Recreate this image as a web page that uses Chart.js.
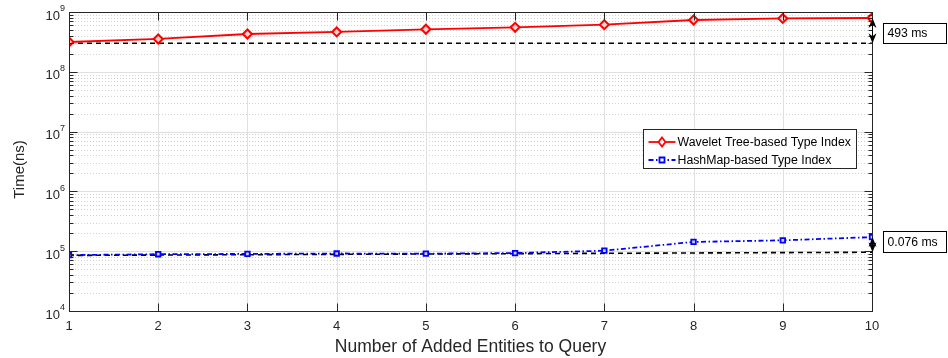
<!DOCTYPE html>
<html>
<head>
<meta charset="utf-8">
<script src="https://cdn.jsdelivr.net/npm/chart.js@4.4.0/dist/chart.umd.min.js"></script>
<style>
  html, body { margin: 0; padding: 0; background: #fff; }
  #wrap { width: 948px; height: 358px; }
</style>
</head>
<body>
<div id="wrap"><canvas id="c" width="948" height="358"></canvas></div>
<script>
// Query time (ns) versus number of added entities
const entities = [1, 2, 3, 4, 5, 6, 7, 8, 9, 10];
const waveletTreeNs = [3.15e8, 3.54e8, 4.29e8, 4.64e8, 5.14e8, 5.55e8, 6.13e8, 7.35e8, 7.8e8, 7.93e8];
const hashMapNs = [8.6e4, 8.9e4, 9.0e4, 9.15e4, 9.1e4, 9.3e4, 1.02e5, 1.43e5, 1.52e5, 1.72e5];
// reference lines, given at the first and last entity count
const baselineX = [1, 10];
const waveletBaselineNs = [3.0e8, 3.0e8];
const hashMapBaselineNs = [8.5e4, 9.6e4];
const gapLabels = ['493 ms', '0.076 ms'];
const seriesNames = ['Wavelet Tree-based Type Index', 'HashMap-based Type Index'];
const yDecades = [1e4, 1e5, 1e6, 1e7, 1e8, 1e9];
const yDecadeExponents = ['4', '5', '6', '7', '8', '9'];
const yTitle = 'Time(ns)';

const FONT = "'Liberation Sans', Arial, Helvetica, sans-serif";
const AXIS_COLOR = '#262626';

const toPoints = (xs, ys) => xs.map((x, i) => ({ x: x, y: ys[i] }));

const seriesStyles = [
  { color: '#ff0000', dash: [], point: 'rectRot' },
  { color: '#0000ff', dash: [5, 2.5, 1.5, 2.5], point: 'rect' }
];

function drawArrowHead(ctx, x, y, dir) {
  // dir: -1 pointing up, +1 pointing down
  ctx.beginPath();
  ctx.moveTo(x, y);
  ctx.lineTo(x - 4, y - dir * 10);
  ctx.lineTo(x, y - dir * 7);
  ctx.lineTo(x + 4, y - dir * 10);
  ctx.closePath();
  ctx.fill();
}

const matlabAxes = {
  id: 'matlabAxes',
  beforeDatasetsDraw(chart) {
    const { ctx, chartArea: ca, scales } = chart;
    const xs = scales.x, ys = scales.y;
    ctx.save();
    ctx.lineWidth = 1;
    // minor dotted grid on the log axis
    ctx.strokeStyle = '#d2d2d2';
    ctx.setLineDash([1, 2]);
    for (let d = 0; d < yDecades.length - 1; d++) {
      for (let k = 2; k <= 9; k++) {
        const py = Math.round(ys.getPixelForValue(k * yDecades[d])) + 0.5;
        ctx.beginPath(); ctx.moveTo(ca.left, py); ctx.lineTo(ca.right, py); ctx.stroke();
      }
    }
    ctx.setLineDash([]);
    // major grid
    ctx.strokeStyle = '#e0e0e0';
    yDecades.forEach(v => {
      const py = Math.round(ys.getPixelForValue(v)) + 0.5;
      ctx.beginPath(); ctx.moveTo(ca.left, py); ctx.lineTo(ca.right, py); ctx.stroke();
    });
    entities.forEach(v => {
      const px = Math.round(xs.getPixelForValue(v)) + 0.5;
      ctx.beginPath(); ctx.moveTo(px, ca.top); ctx.lineTo(px, ca.bottom); ctx.stroke();
    });
    ctx.restore();
  },
  afterDatasetsDraw(chart) {
    const { ctx, chartArea: ca, scales } = chart;
    const xs = scales.x, ys = scales.y;
    const L = ca.left + 0.5, R = Math.round(ca.right) + 0.5, T = ca.top + 0.5, B = Math.round(ca.bottom) + 0.5;
    ctx.save();
    // axes box
    ctx.strokeStyle = AXIS_COLOR;
    ctx.lineWidth = 1;
    ctx.strokeRect(L, T, R - L, B - T);
    // inward tick marks
    ctx.beginPath();
    entities.forEach(v => {
      const px = Math.round(xs.getPixelForValue(v)) + 0.5;
      ctx.moveTo(px, B); ctx.lineTo(px, B - 8);
      ctx.moveTo(px, T); ctx.lineTo(px, T + 8);
    });
    yDecades.forEach((v, d) => {
      const py = Math.round(ys.getPixelForValue(v)) + 0.5;
      ctx.moveTo(L, py); ctx.lineTo(L + 8, py);
      ctx.moveTo(R, py); ctx.lineTo(R - 8, py);
      if (d < yDecades.length - 1) {
        for (let k = 2; k <= 9; k++) {
          const my = Math.round(ys.getPixelForValue(k * v)) + 0.5;
          ctx.moveTo(L, my); ctx.lineTo(L + 4, my);
          ctx.moveTo(R, my); ctx.lineTo(R - 4, my);
        }
      }
    });
    ctx.stroke();

    // y tick labels as 10 with a raised exponent
    ctx.fillStyle = AXIS_COLOR;
    ctx.textBaseline = 'middle';
    ctx.textAlign = 'left';
    yDecades.forEach((v, d) => {
      const py = ys.getPixelForValue(v);
      ctx.font = '9px ' + FONT;
      const expW = ctx.measureText(yDecadeExponents[d]).width;
      ctx.font = '13px ' + FONT;
      const baseW = ctx.measureText('10').width;
      const xEnd = ca.left - 4;
      ctx.fillText('10', xEnd - expW - baseW, py + 4);
      ctx.font = '9px ' + FONT;
      ctx.fillText(yDecadeExponents[d], xEnd - expW, py - 3);
    });

    // y axis title
    ctx.save();
    ctx.translate(20, (ca.top + ca.bottom) / 2 + 8);
    ctx.rotate(-Math.PI / 2);
    ctx.font = '15px ' + FONT;
    ctx.textAlign = 'center';
    ctx.textBaseline = 'middle';
    ctx.fillText(yTitle, 0, 0);
    ctx.restore();

    // gap arrows between the last point of each series and its reference line
    const gaps = [
      { top: waveletTreeNs[waveletTreeNs.length - 1], bottom: waveletBaselineNs[1], boxTop: ca.top + 11, boxH: 20 },
      { top: hashMapNs[hashMapNs.length - 1], bottom: hashMapBaselineNs[1], boxTop: ca.top + 219, boxH: 21 }
    ];
    ctx.fillStyle = '#000';
    ctx.strokeStyle = '#000';
    gaps.forEach((g, i) => {
      const x = R;
      const y1 = ys.getPixelForValue(g.top);
      const y2 = ys.getPixelForValue(g.bottom);
      ctx.lineWidth = 1;
      ctx.beginPath(); ctx.moveTo(x, y1 + 3); ctx.lineTo(x, y2 - 3); ctx.stroke();
      drawArrowHead(ctx, x, y1, -1);
      drawArrowHead(ctx, x, y2, 1);
      const bx = Math.round(ca.right) + 11.5;
      const by = Math.round(g.boxTop) + 0.5;
      ctx.fillStyle = '#fff';
      ctx.fillRect(bx, by, 63, g.boxH);
      ctx.strokeRect(bx, by, 63, g.boxH);
      ctx.fillStyle = '#000';
      ctx.font = '12.2px ' + FONT;
      ctx.textAlign = 'left';
      ctx.textBaseline = 'middle';
      ctx.fillText(gapLabels[i], bx + 4, by + g.boxH / 2 + 0.5);
    });

    // legend box
    const lw = 213, lh = 39;
    const lx = Math.round(ca.right) - 16 - lw + 0.5;
    const ly = ca.top + 117 + 0.5;
    ctx.fillStyle = '#fff';
    ctx.fillRect(lx, ly, lw, lh);
    ctx.strokeStyle = AXIS_COLOR;
    ctx.lineWidth = 1;
    ctx.strokeRect(lx, ly, lw, lh);
    seriesNames.forEach((name, i) => {
      const st = seriesStyles[i];
      const cy = Math.round(ly + 12 + i * 18);
      ctx.strokeStyle = st.color;
      ctx.lineWidth = 1.8;
      ctx.setLineDash(st.dash);
      ctx.beginPath(); ctx.moveTo(lx + 5, cy); ctx.lineTo(lx + 32, cy); ctx.stroke();
      ctx.setLineDash([]);
      const mx = lx + 18.5;
      ctx.fillStyle = '#fff';
      ctx.beginPath();
      if (st.point === 'rectRot') {
        ctx.moveTo(mx, cy - 4.5); ctx.lineTo(mx + 3.5, cy); ctx.lineTo(mx, cy + 4.5); ctx.lineTo(mx - 3.5, cy); ctx.closePath();
      } else {
        ctx.rect(mx - 2.5, cy - 2.5, 5, 5);
      }
      ctx.fill(); ctx.stroke();
      ctx.fillStyle = '#000';
      ctx.font = '12.3px ' + FONT;
      ctx.textAlign = 'left';
      ctx.textBaseline = 'middle';
      ctx.fillText(name, lx + 34, cy + 0.5);
    });
    ctx.restore();
  }
};

new Chart(document.getElementById('c'), {
  type: 'line',
  data: {
    datasets: [
      {
        label: seriesNames[0],
        data: toPoints(entities, waveletTreeNs),
        borderColor: seriesStyles[0].color,
        borderWidth: 1.8,
        pointStyle: 'rectRot',
        pointRadius: 4.5,
        pointBorderWidth: 2,
        pointBorderColor: seriesStyles[0].color,
        pointBackgroundColor: '#ffd0d0',
        order: 1
      },
      {
        label: seriesNames[1],
        data: toPoints(entities, hashMapNs),
        borderColor: seriesStyles[1].color,
        borderWidth: 1.8,
        borderDash: seriesStyles[1].dash,
        pointStyle: 'rect',
        pointRadius: 3.2,
        pointBorderWidth: 1.8,
        pointBorderColor: seriesStyles[1].color,
        pointBackgroundColor: '#d0d0ff',
        order: 1
      },
      {
        label: 'wavelet baseline',
        data: toPoints(baselineX, waveletBaselineNs),
        borderColor: '#000000',
        borderWidth: 1.6,
        borderDash: [5, 4],
        pointRadius: 0,
        order: 2
      },
      {
        label: 'hashmap baseline',
        data: toPoints(baselineX, hashMapBaselineNs),
        borderColor: '#000000',
        borderWidth: 1.6,
        borderDash: [5, 4],
        pointRadius: 0,
        order: 2
      }
    ]
  },
  options: {
    responsive: false,
    animation: false,
    devicePixelRatio: 1,
    layout: { padding: { top: 12, right: 76, left: 0, bottom: 0 } },
    plugins: { legend: { display: false }, tooltip: { enabled: false } },
    scales: {
      x: {
        type: 'linear',
        min: 1,
        max: 10,
        ticks: { stepSize: 1, color: AXIS_COLOR, font: { family: FONT, size: 13 }, padding: 0 },
        grid: { display: false },
        border: { display: false },
        title: {
          display: true,
          text: 'Number of Added Entities to Query',
          color: AXIS_COLOR,
          font: { family: FONT, size: 17.5 },
          padding: { top: 0, bottom: 0 }
        },
        afterFit: s => { s.height = 47; }
      },
      y: {
        type: 'logarithmic',
        min: 1e4,
        max: 1e9,
        ticks: { display: false },
        grid: { display: false },
        border: { display: false },
        title: { display: false },
        afterFit: s => { s.width = 69; }
      }
    }
  },
  plugins: [matlabAxes]
});
</script>
</body>
</html>
